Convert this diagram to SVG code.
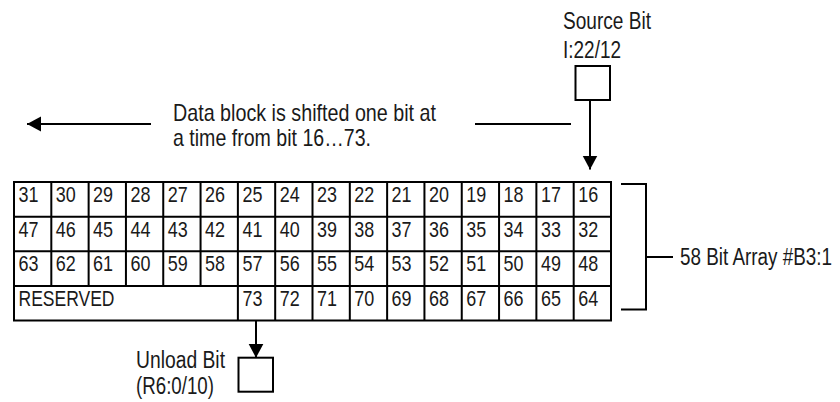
<svg xmlns="http://www.w3.org/2000/svg" width="840" height="402" viewBox="0 0 840 402">
  <style>
    .ln { stroke: #000; stroke-width: 2; fill: none; }
    .box { stroke: #000; stroke-width: 2; fill: #fff; }
    .t { font-family: "Liberation Sans", Arial, sans-serif; fill: #1a1a1a; }
    .lbl { font-size: 23px; }
    .big { font-size: 24px; }
    .cell { font-size: 22px; }
  </style>
  <defs>
    <marker id="arr" markerUnits="userSpaceOnUse" markerWidth="15" markerHeight="16" refX="14" refY="8" orient="auto">
      <path d="M0,0.5 L14,8 L0,15.5 z" fill="#000"/>
    </marker>
  </defs>
  <rect width="840" height="402" fill="#fff"/>

  <g id="connectors">
    <line class="ln" x1="151" y1="124" x2="27" y2="124" marker-end="url(#arr)"/>
    <line class="ln" x1="475" y1="124" x2="571" y2="124"/>
    <line class="ln" x1="590" y1="100" x2="590" y2="169.5" marker-end="url(#arr)"/>
    <line class="ln" x1="256" y1="309" x2="256" y2="357.7" marker-end="url(#arr)"/>
    <path class="ln" d="M621,184 H646 V309.5 H621"/>
    <line class="ln" x1="646" y1="257" x2="673" y2="257"/>
  </g>

  <g id="shift-label">
    <text class="t big" x="173" y="120.5" textLength="263" lengthAdjust="spacingAndGlyphs">Data block is shifted one bit at</text>
    <text class="t big" x="173" y="146" textLength="198" lengthAdjust="spacingAndGlyphs">a time from bit 16…73.</text>
  </g>

  <g id="source-bit">
    <text class="t lbl" x="563" y="29" textLength="88" lengthAdjust="spacingAndGlyphs">Source Bit</text>
    <text class="t lbl" x="563" y="58" textLength="58" lengthAdjust="spacingAndGlyphs">I:22/12</text>
    <rect class="box" x="575.5" y="66" width="34.5" height="34"/>
  </g>

  <g id="unload-bit">
    <text class="t lbl" x="136" y="368" textLength="89" lengthAdjust="spacingAndGlyphs">Unload Bit</text>
    <text class="t lbl" x="136" y="394" textLength="78" lengthAdjust="spacingAndGlyphs">(R6:0/10)</text>
    <rect class="box" x="238.5" y="357.7" width="34.5" height="34"/>
  </g>

  <g id="array-label">
    <text class="t lbl" x="680" y="265" textLength="152" lengthAdjust="spacingAndGlyphs">58 Bit Array #B3:1</text>
  </g>

  <g id="bit-array">
    <rect class="box" x="14" y="182" width="597" height="138.5"/>
    <path class="ln" d="M14,216.63 H611 M14,251.25 H611 M14,285.88 H611"/>
    <path class="ln" d="M51.31,182 V285.88 M88.63,182 V285.88 M125.94,182 V285.88 M163.25,182 V285.88 M200.56,182 V285.88 M237.88,182 V320.5 M275.19,182 V320.5 M312.5,182 V320.5 M349.81,182 V320.5 M387.13,182 V320.5 M424.44,182 V320.5 M461.75,182 V320.5 M499.06,182 V320.5 M536.38,182 V320.5 M573.69,182 V320.5"/>
    <g class="t cell" lengthAdjust="spacingAndGlyphs">
      <text x="18.5" y="202" textLength="20" lengthAdjust="spacingAndGlyphs">31</text><text x="55.8" y="202" textLength="20" lengthAdjust="spacingAndGlyphs">30</text><text x="93.1" y="202" textLength="20" lengthAdjust="spacingAndGlyphs">29</text><text x="130.4" y="202" textLength="20" lengthAdjust="spacingAndGlyphs">28</text><text x="167.8" y="202" textLength="20" lengthAdjust="spacingAndGlyphs">27</text><text x="205.1" y="202" textLength="20" lengthAdjust="spacingAndGlyphs">26</text><text x="242.4" y="202" textLength="20" lengthAdjust="spacingAndGlyphs">25</text><text x="279.7" y="202" textLength="20" lengthAdjust="spacingAndGlyphs">24</text><text x="317" y="202" textLength="20" lengthAdjust="spacingAndGlyphs">23</text><text x="354.3" y="202" textLength="20" lengthAdjust="spacingAndGlyphs">22</text><text x="391.6" y="202" textLength="20" lengthAdjust="spacingAndGlyphs">21</text><text x="428.9" y="202" textLength="20" lengthAdjust="spacingAndGlyphs">20</text><text x="466.3" y="202" textLength="20" lengthAdjust="spacingAndGlyphs">19</text><text x="503.6" y="202" textLength="20" lengthAdjust="spacingAndGlyphs">18</text><text x="540.9" y="202" textLength="20" lengthAdjust="spacingAndGlyphs">17</text><text x="578.2" y="202" textLength="20" lengthAdjust="spacingAndGlyphs">16</text>
      <text x="18.5" y="236.6" textLength="20" lengthAdjust="spacingAndGlyphs">47</text><text x="55.8" y="236.6" textLength="20" lengthAdjust="spacingAndGlyphs">46</text><text x="93.1" y="236.6" textLength="20" lengthAdjust="spacingAndGlyphs">45</text><text x="130.4" y="236.6" textLength="20" lengthAdjust="spacingAndGlyphs">44</text><text x="167.8" y="236.6" textLength="20" lengthAdjust="spacingAndGlyphs">43</text><text x="205.1" y="236.6" textLength="20" lengthAdjust="spacingAndGlyphs">42</text><text x="242.4" y="236.6" textLength="20" lengthAdjust="spacingAndGlyphs">41</text><text x="279.7" y="236.6" textLength="20" lengthAdjust="spacingAndGlyphs">40</text><text x="317" y="236.6" textLength="20" lengthAdjust="spacingAndGlyphs">39</text><text x="354.3" y="236.6" textLength="20" lengthAdjust="spacingAndGlyphs">38</text><text x="391.6" y="236.6" textLength="20" lengthAdjust="spacingAndGlyphs">37</text><text x="428.9" y="236.6" textLength="20" lengthAdjust="spacingAndGlyphs">36</text><text x="466.3" y="236.6" textLength="20" lengthAdjust="spacingAndGlyphs">35</text><text x="503.6" y="236.6" textLength="20" lengthAdjust="spacingAndGlyphs">34</text><text x="540.9" y="236.6" textLength="20" lengthAdjust="spacingAndGlyphs">33</text><text x="578.2" y="236.6" textLength="20" lengthAdjust="spacingAndGlyphs">32</text>
      <text x="18.5" y="271.3" textLength="20" lengthAdjust="spacingAndGlyphs">63</text><text x="55.8" y="271.3" textLength="20" lengthAdjust="spacingAndGlyphs">62</text><text x="93.1" y="271.3" textLength="20" lengthAdjust="spacingAndGlyphs">61</text><text x="130.4" y="271.3" textLength="20" lengthAdjust="spacingAndGlyphs">60</text><text x="167.8" y="271.3" textLength="20" lengthAdjust="spacingAndGlyphs">59</text><text x="205.1" y="271.3" textLength="20" lengthAdjust="spacingAndGlyphs">58</text><text x="242.4" y="271.3" textLength="20" lengthAdjust="spacingAndGlyphs">57</text><text x="279.7" y="271.3" textLength="20" lengthAdjust="spacingAndGlyphs">56</text><text x="317" y="271.3" textLength="20" lengthAdjust="spacingAndGlyphs">55</text><text x="354.3" y="271.3" textLength="20" lengthAdjust="spacingAndGlyphs">54</text><text x="391.6" y="271.3" textLength="20" lengthAdjust="spacingAndGlyphs">53</text><text x="428.9" y="271.3" textLength="20" lengthAdjust="spacingAndGlyphs">52</text><text x="466.3" y="271.3" textLength="20" lengthAdjust="spacingAndGlyphs">51</text><text x="503.6" y="271.3" textLength="20" lengthAdjust="spacingAndGlyphs">50</text><text x="540.9" y="271.3" textLength="20" lengthAdjust="spacingAndGlyphs">49</text><text x="578.2" y="271.3" textLength="20" lengthAdjust="spacingAndGlyphs">48</text>
      <text x="18.5" y="305.9" textLength="96" lengthAdjust="spacingAndGlyphs">RESERVED</text><text x="242.4" y="305.9" textLength="20" lengthAdjust="spacingAndGlyphs">73</text><text x="279.7" y="305.9" textLength="20" lengthAdjust="spacingAndGlyphs">72</text><text x="317" y="305.9" textLength="20" lengthAdjust="spacingAndGlyphs">71</text><text x="354.3" y="305.9" textLength="20" lengthAdjust="spacingAndGlyphs">70</text><text x="391.6" y="305.9" textLength="20" lengthAdjust="spacingAndGlyphs">69</text><text x="428.9" y="305.9" textLength="20" lengthAdjust="spacingAndGlyphs">68</text><text x="466.3" y="305.9" textLength="20" lengthAdjust="spacingAndGlyphs">67</text><text x="503.6" y="305.9" textLength="20" lengthAdjust="spacingAndGlyphs">66</text><text x="540.9" y="305.9" textLength="20" lengthAdjust="spacingAndGlyphs">65</text><text x="578.2" y="305.9" textLength="20" lengthAdjust="spacingAndGlyphs">64</text>
    </g>
  </g>
</svg>
